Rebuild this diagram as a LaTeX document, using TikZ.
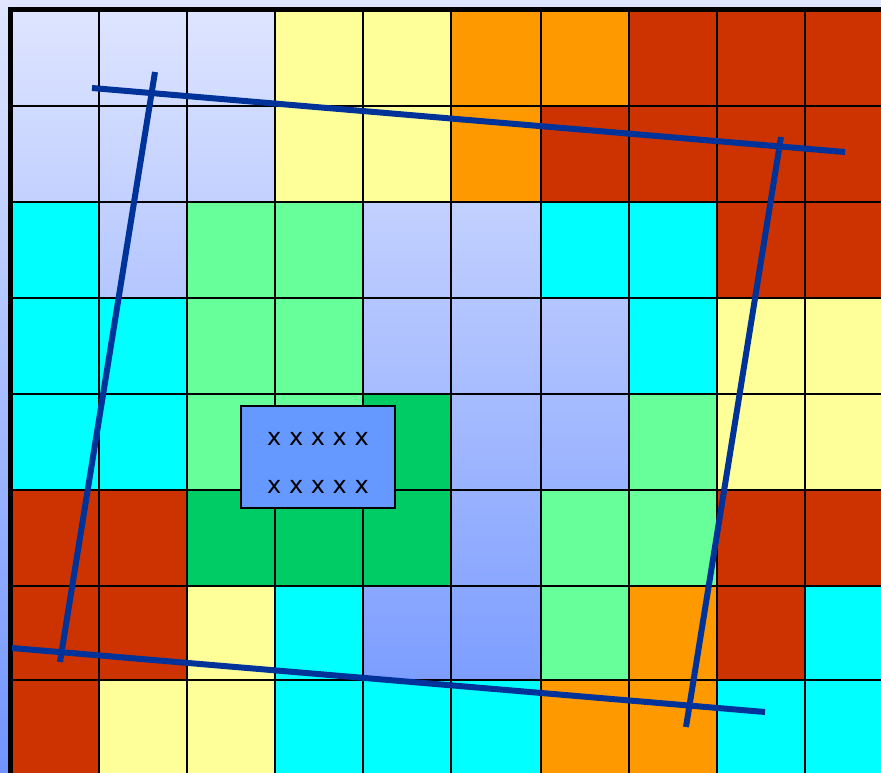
\documentclass[tikz,border=0pt]{standalone}
\usepackage{fontspec}
\newfontfamily\boxfont{DejaVu Sans}
\definecolor{bgtop}{RGB}{224,230,255}
\definecolor{bgbot}{RGB}{112,148,255}
\definecolor{cyel}{RGB}{255,255,153}
\definecolor{cora}{RGB}{255,153,0}
\definecolor{cred}{RGB}{204,51,0}
\definecolor{ccya}{RGB}{0,255,255}
\definecolor{clgr}{RGB}{102,255,153}
\definecolor{cdgr}{RGB}{0,204,102}
\definecolor{boxblue}{RGB}{102,153,255}
\definecolor{lineblue}{RGB}{0,51,153}
\tikzset{
  cellB/.style={},
  cellY/.style={fill=cyel},
  cellO/.style={fill=cora},
  cellR/.style={fill=cred},
  cellC/.style={fill=ccya},
  cellL/.style={fill=clgr},
  cellG/.style={fill=cdgr},
  gridline/.style={line width=2pt,black},
  frameline/.style={line width=5pt,black,line join=miter},
  bluebar/.style={line width=6pt,lineblue,line cap=butt},
  labelbox/.style={draw=black,line width=1.5pt,fill=boxblue,minimum width=154pt,minimum height=102pt,inner sep=0pt},
  labeltext/.style={inner sep=0pt,align=center,font=\boxfont\fontsize{24}{48}\selectfont}
}
\begin{document}
\begin{tikzpicture}[x=1pt,y=-1pt]
\useasboundingbox (0,0) rectangle (881,772);
\clip (0,0) rectangle (881,772);
\begin{scope}[y=1pt]
\shade[top color=bgtop,bottom color=bgbot] (0,-772) rectangle (881,0);
\end{scope}
\def\xs{{11,99,187,275,363,451,541,629,717,805,893}}
\def\ys{{10,105.5,201.5,297.5,393.5,489.5,585.5,680,776}}
\foreach \rowlist [count=\r from 0] in {
  {B,B,B,Y,Y,O,O,R,R,R},
  {B,B,B,Y,Y,O,R,R,R,R},
  {C,B,L,L,B,B,C,C,R,R},
  {C,C,L,L,B,B,B,C,Y,Y},
  {C,C,L,L,G,B,B,L,Y,Y},
  {R,R,G,G,G,B,L,L,R,R},
  {R,R,Y,C,B,B,L,O,R,C},
  {R,Y,Y,C,C,C,O,O,C,C}}{
  \foreach \k [count=\c from 0] in \rowlist {
    \pgfmathsetmacro\xa{\xs[\c]}
    \pgfmathsetmacro\xb{\xs[\c+1]}
    \pgfmathsetmacro\ya{\ys[\r]}
    \pgfmathsetmacro\yb{\ys[\r+1]}
    \path[cell\k] (\xa,\ya) rectangle (\xb,\yb);
  }
}
\foreach \x in {99,187,275,363,451,541,629,717,805}
  \draw[gridline] (\x,10) -- (\x,776);
\foreach \y in {105.5,201.5,297.5,393.5,489.5,585.5,680}
  \draw[gridline] (11,\y) -- (881,\y);
\draw[frameline] (10.5,776) -- (10.5,9.8) -- (885,9.8);

\node[labelbox] (box) at (318,457) {};
\node[labeltext] (boxtext) at ([yshift=-6pt]box.center) {x x x x x\\x x x x x};

\coordinate (t1) at (92,88);
\coordinate (t2) at (845,152);
\coordinate (l1) at (155,72);
\coordinate (l2) at (60,662);
\coordinate (b1) at (12,648);
\coordinate (b2) at (765,712);
\coordinate (r1) at (781,137);
\coordinate (r2) at (686,727);
\draw[bluebar] (t1) -- (t2);
\draw[bluebar] (l1) -- (l2);
\draw[bluebar] (b1) -- (b2);
\draw[bluebar] (r1) -- (r2);
\end{tikzpicture}
\end{document}
